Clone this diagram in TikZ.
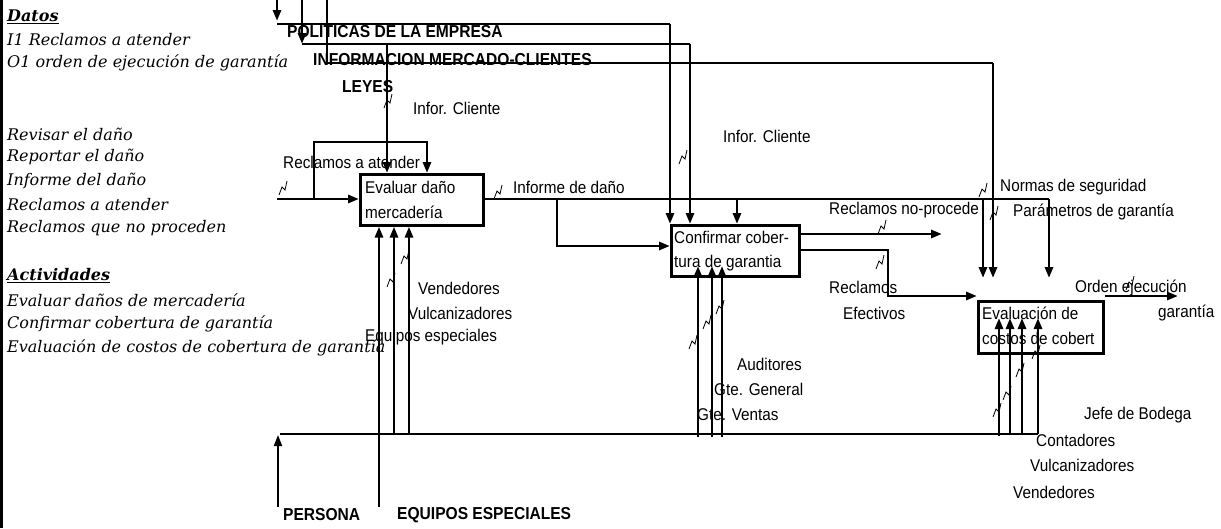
\documentclass[tikz,border=0pt]{standalone}
\usepackage{fontspec}
\setmainfont{Liberation Sans}[FakeStretch=0.9]
\newfontfamily\scriptf{DejaVu Serif}
\usetikzlibrary{arrows.meta}
\begin{document}
\begin{tikzpicture}[x=1pt,y=-1pt,
  arr/.style={line width=2.8pt,-{Triangle[length=11pt,width=8pt]}},
  ln/.style={line width=2.8pt},
  thinln/.style={line width=1.6pt},
  tarr/.style={line width=1.8pt,-{Triangle[length=11pt,width=8pt]}},
  box/.style={draw,line width=2.6pt,inner sep=0,anchor=north west},
  lbl/.style={inner sep=0,anchor=west,font=\fontsize{17}{19}\selectfont},
  blbl/.style={inner sep=0,anchor=west,font=\fontsize{17.3}{19}\selectfont\bfseries},
  sc/.style={inner sep=0,anchor=west,font=\scriptf\itshape\fontsize{16}{18}\selectfont},
  zz/.style={line width=0.8pt}
]
\useasboundingbox (0,0) rectangle (1221,528);
\newcommand\zigmark[2]{\draw[zz,shift={(#1,#2)}] (-4,7) -- (-1,-1) -- (2,2) -- (4,-7);}
% left border
\draw[line width=3pt] (1.5,0) -- (1.5,528);
% boxes
\node[box,minimum width=123pt,minimum height=51pt] (b1) at (359,173) {};
\node[box,minimum width=128pt,minimum height=51pt] (b2) at (670,224) {};
\node[box,minimum width=125pt,minimum height=52pt] (b3) at (977,300) {};
% box texts
\node[lbl] (t1a) at (365,187) {Evaluar daño};
\node[lbl] (t1b) at (365,212) {mercadería};
\node[lbl] (t2a) at (674,237) {Confirmar cober-};
\node[lbl] (t2b) at (674,263) {tura de garantia};
\node[lbl] (t3a) at (982,313) {Evaluación de};
\node[lbl] (t3b) at (982,338) {costos de cobert};
% coordinates
\coordinate (p1) at (277,0);
\coordinate (p1e) at (277,21);
\coordinate (h1s) at (277,24);
\coordinate (h1e) at (670,24);
\coordinate (p2) at (302,0);
\coordinate (h2s) at (302,44);
\coordinate (h2e) at (690,44);
\coordinate (p3) at (327,0);
\coordinate (h3s) at (327,63);
\coordinate (h3e) at (993,63);
\coordinate (ley) at (387,44);
\coordinate (in1) at (277,199);
\coordinate (j1) at (314,199);
\coordinate (lp) at (427,142);
\coordinate (mainE) at (1049,199);
\coordinate (ja) at (983,199);
\coordinate (jb) at (737,199);
\coordinate (jc) at (557,199);
\coordinate (c3t) at (993,278);
\coordinate (m1a) at (379,507);
\coordinate (m1b) at (394,434);
\coordinate (m1c) at (409,434);
% controls from top
\draw[arr] (p1) -- (p1e);
\draw[thinln] (h1s) -- (h1e);
\draw[arr] (h1e) -- (h1e |- b2.north);
\draw[arr] (p2) -- (h2s);
\draw[thinln] (h2s) -- (h2e);
\draw[arr] (h2e) -- (h2e |- b2.north);
\draw[ln] (p3) -- (h3s);
\draw[thinln] (h3s) -- (h3e);
\draw[arr] (h3e) -- (c3t);
\draw[arr] (ley) -- (ley |- b1.north);
% inputs box1
\draw[arr] (in1) -- (in1 -| b1.west);
\draw[arr] (j1) |- (lp) -- (lp |- b1.north);
% main output line
\draw[ln] (in1 -| b1.east) -- (mainE);
\draw[arr] (mainE) -- (1049,278);
\draw[arr] (ja) -- (983,278);
\draw[arr] (jb) -- (jb |- b2.north);
\draw[arr] (jc) |- (b2.west |- 0,246);
% box2 outputs
\draw[arr] (b2.east |- 0,234) -- (942,234);
\draw[arr] (b2.east |- 0,250) -- (888,250) -- (888,296) -- (b3.west |- 0,296);
% box3 output
\draw[arr] (b3.east |- 0,296) -- (1178,296);
% mechanisms
\coordinate (bl) at (280,434);
\coordinate (br) at (1038,434);
\draw[thinln] (bl) -- (br);
\draw[tarr] (278,507) -- (278,435);
\draw[arr] (m1a) -- (m1a |- b1.south);
\draw[arr] (m1b) -- (m1b |- b1.south);
\draw[arr] (m1c) -- (m1c |- b1.south);
\draw[arr] (698,437) -- (698,266);
\draw[arr] (712,437) -- (712,266);
\draw[arr] (722,437) -- (722,266);
\draw[arr] (999,436) -- (999,318);
\draw[arr] (1010,434) -- (1010,318);
\draw[arr] (1022,434) -- (1022,318);
\draw[arr] (br) -- (1038,318);
% squiggles
\zigmark{283}{188}
\zigmark{388}{101}
\zigmark{498}{192}
\zigmark{683}{157}
\zigmark{882}{227}
\zigmark{880}{262}
\zigmark{983}{190}
\zigmark{994}{213}
\zigmark{1130}{283}
\zigmark{391}{280}
\zigmark{405}{257}
\zigmark{693}{342}
\zigmark{707}{322}
\zigmark{720}{307}
\zigmark{997}{410}
\zigmark{1007}{393}
\zigmark{1020}{370}
\zigmark{1036}{352}
% labels
\node[blbl] (lpol) at (287,32) {POLITICAS DE LA EMPRESA};
\node[blbl] (linf) at (313,60) {INFORMACION MERCADO-CLIENTES};
\node[blbl] (lley) at (342,87) {LEYES};
\node[blbl] (lper) at (283,515) {PERSONA};
\node[blbl] (lequ) at (397,515) {EQUIPOS ESPECIALES};
\node[lbl] (l1) at (413,108) {Infor. Cliente};
\node[lbl] (l2) at (283,162) {Reclamos a atender};
\node[lbl] (l3) at (513,187) {Informe de daño};
\node[lbl] (l4) at (723,136) {Infor. Cliente};
\node[lbl] (l5) at (829,210) {Reclamos no-procede};
\node[lbl] (l6) at (1000,187) {Normas de seguridad};
\node[lbl] (l7) at (1013,212) {Parámetros de garantía};
\node[lbl] (l8) at (829,287) {Reclamos};
\node[lbl] (l9) at (843,313) {Efectivos};
\node[lbl] (l10) at (1075,288) {Orden ejecución};
\node[lbl] (l11) at (1158,313) {garantía};
\node[lbl] (l12) at (418,288) {Vendedores};
\node[lbl] (l13) at (408,313) {Vulcanizadores};
\node[lbl] (l14) at (365,337) {Equipos especiales};
\node[lbl] (l15) at (737,364) {Auditores};
\node[lbl] (l16) at (714,389) {Gte. General};
\node[lbl] (l17) at (697,415) {Gte. Ventas};
\node[lbl] (l18) at (1084,415) {Jefe de Bodega};
\node[lbl] (l19) at (1036,440) {Contadores};
\node[lbl] (l20) at (1030,465) {Vulcanizadores};
\node[lbl] (l21) at (1013,492) {Vendedores};
% left script text
\node[sc] (s1) at (7,17) {\bfseries\underline{Datos}};
\node[sc] (s2) at (7,40) {I1 Reclamos a atender};
\node[sc] (s3) at (7,63) {O1 orden de ejecución de garantía};
\node[sc] (s4) at (7,134) {Revisar el daño};
\node[sc] (s5) at (7,157) {Reportar el daño};
\node[sc] (s6) at (7,181) {Informe del daño};
\node[sc] (s7) at (7,205) {Reclamos a atender};
\node[sc] (s8) at (7,228) {Reclamos que no proceden};
\node[sc] (s9) at (7,276) {\bfseries\underline{Actividades}};
\node[sc] (s10) at (7,300) {Evaluar daños de mercadería};
\node[sc] (s11) at (7,324) {Confirmar cobertura de garantía};
\node[sc] (s12) at (7,348) {Evaluación de costos de cobertura de garantía};
\end{tikzpicture}
\end{document}
